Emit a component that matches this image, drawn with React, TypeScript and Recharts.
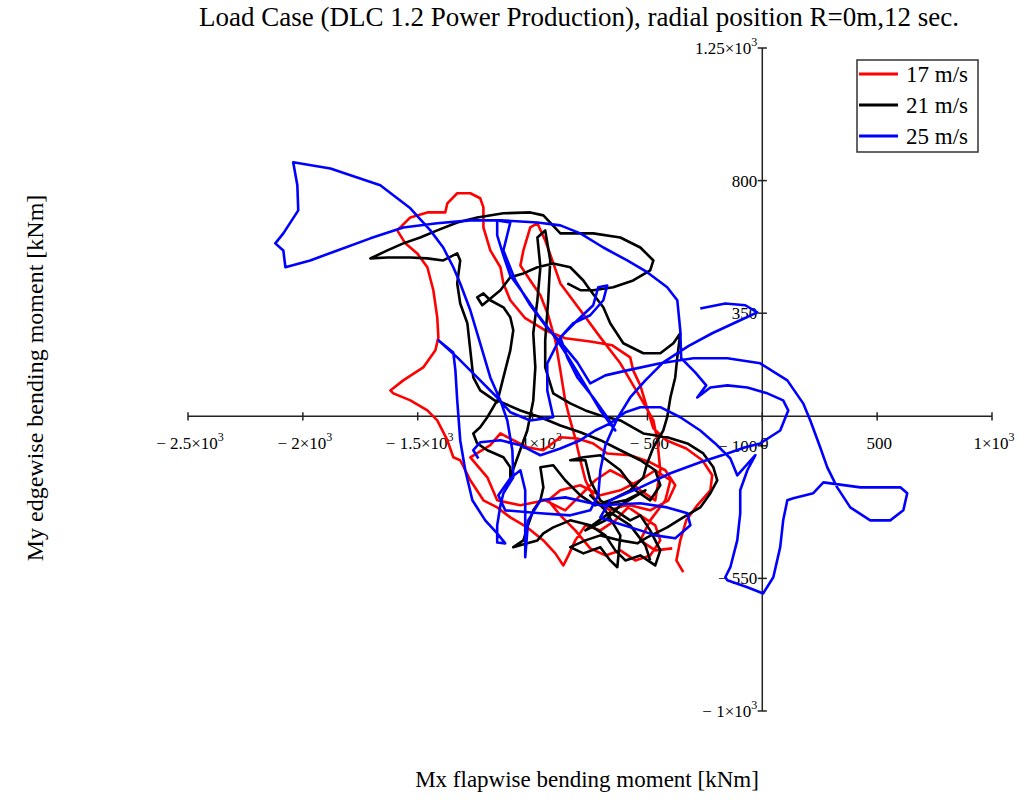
import { ScatterChart, Scatter, XAxis, YAxis, ReferenceLine, ReferenceDot } from 'recharts';

const FONT = '"Liberation Serif", "Times New Roman", serif';

const X_TICKS = [-2500, -2000, -1500, -1000, -500, 0, 500, 1000];
const X_TICK_LABELS = ['− 2.5×10³', '− 2×10³', '− 1.5×10³', '− 1×10³', '− 500', '0', '500', '1×10³'];
const Y_TICKS = [1250, 800, 350, -100, -550, -1000];
const Y_TICK_LABELS = ['1.25×10³', '800', '350', '− 100', '− 550', '− 1×10³'];

const SERIES_NAMES = ['17 m/s', '21 m/s', '25 m/s'];
const SERIES_COLORS = ['#ff0000', '#000000', '#0000ff'];

// Mx flapwise / My edgewise, kNm, 17 m/s
const RED_MX = [
  -344, -374, -357, -331, -283, -226, -218, -261, -331, -418,
  -474, -505, -531, -562, -575, -653, -749, -858, -945, -1032,
  -1097, -1127, -1140, -1184, -1214, -1214, -1228, -1271, -1328, -1371,
  -1380, -1458, -1532, -1589, -1554, -1502, -1458, -1432, -1415, -1410,
  -1423, -1476, -1563, -1619, -1606, -1532, -1458, -1415, -1371, -1345,
  -1315, -1271, -1214, -1154, -1097, -1023, -953, -901, -866, -844,
  -814, -770, -705, -640, -575, -488, -409, -379, -422, -488,
  -575, -675, -736, -805, -879, -953, -1023, -1084, -1140, -1184,
  -1271, -1197, -1154, -1053, -945, -858, -792, -727, -662, -596,
  -531, -466, -444, -457, -474, -531, -618, -705, -792, -879,
  -914, -945, -979, -1010, -1040, -1053, -1010, -966, -932, -901,
  -879, -858, -836, -814, -792, -770, -727, -662, -596, -531,
  -466, -444, -488, -553, -618, -683, -749, -814, -879, -932,
  -879, -792, -705, -618, -531, -466, -400, -422, -488, -531,
  -466, -392,
];
const RED_MY = [
  -529, -489, -421, -353, -302, -251, -200, -149, -109, -81,
  -41, 37, 105, 156, 200, 241, 254, 265, 292, 333,
  394, 451, 506, 563, 641, 709, 740, 757, 757, 723,
  692, 692, 675, 631, 587, 553, 506, 428, 336, 268,
  224, 166, 122, 88, 78, 54, 20, -14, -81, -139,
  -149, -217, -285, -309, -343, -377, -421, -465, -506, -472,
  -421, -370, -387, -353, -302, -319, -285, -234, -183, -156,
  -132, -126, -92, -75, -71, -115, -105, -81, -58, -98,
  -139, -207, -285, -302, -285, -319, -268, -217, -183, -210,
  -251, -285, -183, -81, -14, 64, 180, 268, 360, 451,
  529, 597, 655, 641, 563, 512, 461, 411, 343, 258,
  156, 54, -14, -75, -149, -217, -285, -319, -302, -336,
  -370, -421, -472, -489, -455, -472, -448, -387, -336, -285,
  -251, -234, -268, -251, -217, -183, -217, -285, -353, -421,
  -455, -448,
];

// 21 m/s
const BLACK_MX = [
  -849, -792, -736, -649, -562, -488, -474, -531, -618, -736,
  -879, -953, -1010, -1127, -1241, -1328, -1415, -1489, -1563, -1632,
  -1706, -1632, -1532, -1458, -1389, -1328, -1315, -1328, -1315, -1284,
  -1271, -1258, -1228, -1154, -1127, -1097, -1084, -1097, -1127, -1184,
  -1214, -1241, -1219, -1140, -1097, -1040, -979, -910, -836, -779,
  -749, -692, -662, -605, -518, -444, -387, -357, -370, -379,
  -400, -414, -431, -474, -501, -518, -575, -662, -727, -792,
  -858, -910, -966, -953, -966, -997, -1023, -1040, -1084, -1023,
  -979, -953, -910, -836, -749, -683, -640, -596, -531, -466,
  -444, -488, -531, -575, -640, -705, -749, -770, -836, -779,
  -705, -618, -553, -488, -444, -466, -531, -618, -705, -792,
  -879, -966, -1053, -1154, -1197, -1228, -1258, -1241, -1197, -1127,
  -1097, -1097, -1062, -1023, -997, -988, -997, -979, -966, -979,
  -945, -923, -932, -945, -945, -910, -836, -770, -705, -618,
  -518, -414, -326, -257, -213, -196, -226, -270, -344, -414,
  -501, -544, -618, -705, -770, -836, -779, -705, -662, -631,
  -618, -683, -749, -705, -596, -509, -618, -683, -770, -662,
  -575, -509, -488,
];
const BLACK_MY = [
  451, 428, 428, 438, 461, 495, 529, 573, 607, 621,
  621, 682, 692, 689, 675, 658, 631, 607, 587, 563,
  536, 539, 539, 536, 529, 553, 529, 451, 383, 316,
  224, 132, 88, 48, 132, 224, 292, 336, 370, 394,
  417, 404, 377, 428, 472, 485, 506, 519, 506, 461,
  428, 370, 316, 248, 214, 214, 248, 282, 200, 132,
  64, -3, -48, -105, -159, -207, -251, -285, -302, -268,
  -217, -166, -173, -241, -285, -319, -377, -421, -444, -431,
  -421, -397, -377, -353, -370, -404, -455, -489, -472, -506,
  -455, -387, -336, -353, -319, -285, -217, -149, -149, -139,
  -132, -183, -251, -285, -234, -183, -149, -115, -81, -54,
  -31, -3, 20, 54, -3, -37, -58, -92, -115, -139,
  -173, -207, -132, -48, 54, 166, 282, 394, 506, 607,
  631, 529, 394, 258, 166, 78, 44, 20, 3, -14,
  -58, -71, -92, -126, -173, -217, -261, -309, -343, -377,
  -411, -431, -421, -404, -421, -444, -465, -444, -489, -512,
  -404, -319, -268, -302, -285, -251, -302, -353, -387, -326,
  -370, -438, -489,
];

// 25 m/s
const BLUE_MX = [
  -270, -161, -74, -22, -96, -218, -322, -431, -509, -575, -631, -683, -705, -714, -749,
  -836, -966, -1119, -1149, -1097, -1053, -1032, -1032, -1019, -966, -858, -705, -531, -414, -326, -313, -379, -466, -531, -631, -705,
  -662, -531, -400, -270, -152, -74, -9, 78, 113, 91, 22, -65, -152, -226, -283, -244, -292, -353,
  -357, -370, -414, -501, -588, -692, -792, -879, -979, -1140, -1271, -1415, -1563, -1706, -1850, -1968, -2076, -2085, -2120, -2085,
  -2020, -2024, -2042, -1880, -1663, -1532, -1445, -1389, -1345, -1315, -1271, -1228, -1184, -1140, -1110, -1088, -1084, -1127, -1140,
  -1154, -1154, -1119, -1154, -1206, -1262, -1293, -1315, -1328, -1336, -1345, -1410, -1328, -1241, -1154, -1097, -1010, -910,
  -936, -936, -879, -823, -749, -692, -675, -714, -736, -805, -879, -849, -805, -736, -675, -640,
  -705, -770, -836, -901, -975, -1040, -1097, -1127, -1154, -1154, -1097, -1127, -1075, -1010, -945, -866, -805, -749,
  -683, -588, -444, -300, -152, -9, 109, 178, 209, 252, 283, 326, 383, 470, 557, 614, 631, 601, 427, 266,
  222, 135, 109, 91, 78, 48, 4, -65, -152, -161, -139, -109, -96, -96, -65, -30,
  -109, -139, -205, -270, -357, -444, -531, -596, -662, -727, -792, -879, -966, -1053, -1140, -1228, -1258, -1236,
];
const BLUE_MY = [
  366, 383, 377, 353, 326, 282, 238, 183, 122, 64, -7, -98, -183, -268, -319,
  -336, -329, -319, -268, -210, -183, -251, -478, -353, -285, -275, -302, -295, -309, -329, -370, -414, -404, -387, -363, -343,
  -285, -241, -193, -156, -126, -105, -92, -48, 20, 54, 78, 98, 105, 98, 64, 105, 149, 197,
  292, 394, 438, 489, 529, 573, 621, 648, 658, 665, 665, 655, 641, 604, 563, 529, 506, 563, 587, 621,
  699, 784, 862, 841, 784, 706, 631, 573, 506, 451, 360, 248, 132, 54, -14, -115, -207, -261, -302,
  -370, -428, -431, -397, -353, -285, -183, -81, 54, 156, 217, 258, 200, 132, 64, 14, -14, -3,
  88, 180, 268, 316, 343, 394, 444, 438, 377, 326, 268, 200, 132, 64, -3, -48,
  20, 105, 190, 268, 343, 417, 478, 546, 614, 665, 658, 563, 461, 377, 309, 241, 183, 112,
  139, 156, 180, 197, 197, 180, 122, 44, -14, -105, -173, -241, -309, -353, -353, -319, -261, -241, -241, -224,
  -261, -278, -285, -353, -444, -546, -601, -580, -556, -546, -512, -421, -329, -251, -183, -132,
  -200, -143, -92, -48, -3, 31, 31, 14, -24, -48, -81, -109, -132, -98, -81, -88, -115, -143,
];

const toPoints = (xs: number[], ys: number[]) =>
  xs.slice(0, Math.min(xs.length, ys.length)).map((x, i) => ({ x, y: ys[i] }));

const SERIES = [
  toPoints(RED_MX, RED_MY),
  toPoints(BLACK_MX, BLACK_MY),
  toPoints(BLUE_MX, BLUE_MY),
];

const AXIS_COLOR = '#222';

function TickText({ x, y, label, anchor }: { x: number; y: number; label: string; anchor: 'middle' | 'end' }) {
  const sup = label.endsWith('³');
  const main = sup ? label.slice(0, -1) : label;
  return (
    <text x={x} y={y} textAnchor={anchor} fontFamily={FONT} fontSize={17} fill="#000">
      {main}
      {sup && (
        <tspan dy={-8} fontSize={12}>
          3
        </tspan>
      )}
    </text>
  );
}

const noDot = () => <g />;

export default function App() {
  return (
    <div style={{ position: 'relative', width: 1030, height: 800, background: '#fff' }}>
      <style>{'body{margin:0}'}</style>
      <ScatterChart width={1030} height={800} margin={{ top: 48, right: 38, bottom: 89, left: 188 }}>
        <XAxis type="number" dataKey="x" domain={[-2500, 1000]} hide allowDataOverflow />
        <YAxis type="number" dataKey="y" domain={[-1000, 1250]} hide allowDataOverflow />
        <ReferenceLine y={0} stroke={AXIS_COLOR} strokeWidth={1.5} />
        <ReferenceLine x={0} stroke={AXIS_COLOR} strokeWidth={1.5} />
        {X_TICKS.map((v) => (
          <ReferenceLine
            key={`xt${v}`}
            segment={[{ x: v, y: -14 }, { x: v, y: 14 }]}
            stroke={AXIS_COLOR}
            strokeWidth={1.5}
          />
        ))}
        {Y_TICKS.map((v) => (
          <ReferenceLine
            key={`yt${v}`}
            segment={[{ x: -20, y: v }, { x: 20, y: v }]}
            stroke={AXIS_COLOR}
            strokeWidth={1.5}
          />
        ))}
        {X_TICKS.map((v, i) => (
          <ReferenceDot
            key={`xl${v}`}
            x={v}
            y={0}
            r={0}
            shape={(p: any) => <TickText x={p.cx + 2} y={p.cy + 33} label={X_TICK_LABELS[i]} anchor="middle" />}
          />
        ))}
        {Y_TICKS.map((v, i) => (
          <ReferenceDot
            key={`yl${v}`}
            x={0}
            y={v}
            r={0}
            shape={(p: any) => <TickText x={p.cx - 5} y={p.cy + 6} label={Y_TICK_LABELS[i]} anchor="end" />}
          />
        ))}
        {SERIES.map((pts, i) => (
          <Scatter
            key={SERIES_NAMES[i]}
            name={SERIES_NAMES[i]}
            data={pts}
            fill={SERIES_COLORS[i]}
            line={{ stroke: SERIES_COLORS[i], strokeWidth: 2.6, strokeLinejoin: 'round' }}
            lineType="joint"
            shape={noDot}
            isAnimationActive={false}
          />
        ))}
      </ScatterChart>
      <svg
        width={1030}
        height={800}
        style={{ position: 'absolute', left: 0, top: 0, pointerEvents: 'none' }}
        fontFamily={FONT}
      >
        <text x={579} y={26} textAnchor="middle" fontSize={27} fill="#000">
          Load Case (DLC 1.2 Power Production), radial position R=0m,12 sec.
        </text>
        <text x={587} y={787} textAnchor="middle" fontSize={23} fill="#000">
          Mx flapwise bending moment [kNm]
        </text>
        <text transform="translate(43,378) rotate(-90)" textAnchor="middle" fontSize={24} fill="#000">
          My edgewise bending moment [kNm]
        </text>
        <rect x={857} y={60} width={121} height={92} fill="#fff" stroke="#333" strokeWidth={1.5} />
        {SERIES_NAMES.map((name, i) => (
          <g key={name}>
            <line x1={859} x2={898} y1={74 + i * 31} y2={74 + i * 31} stroke={SERIES_COLORS[i]} strokeWidth={3} />
            <text x={906} y={82 + i * 31} fontSize={23} fill="#000">
              {name}
            </text>
          </g>
        ))}
      </svg>
    </div>
  );
}
